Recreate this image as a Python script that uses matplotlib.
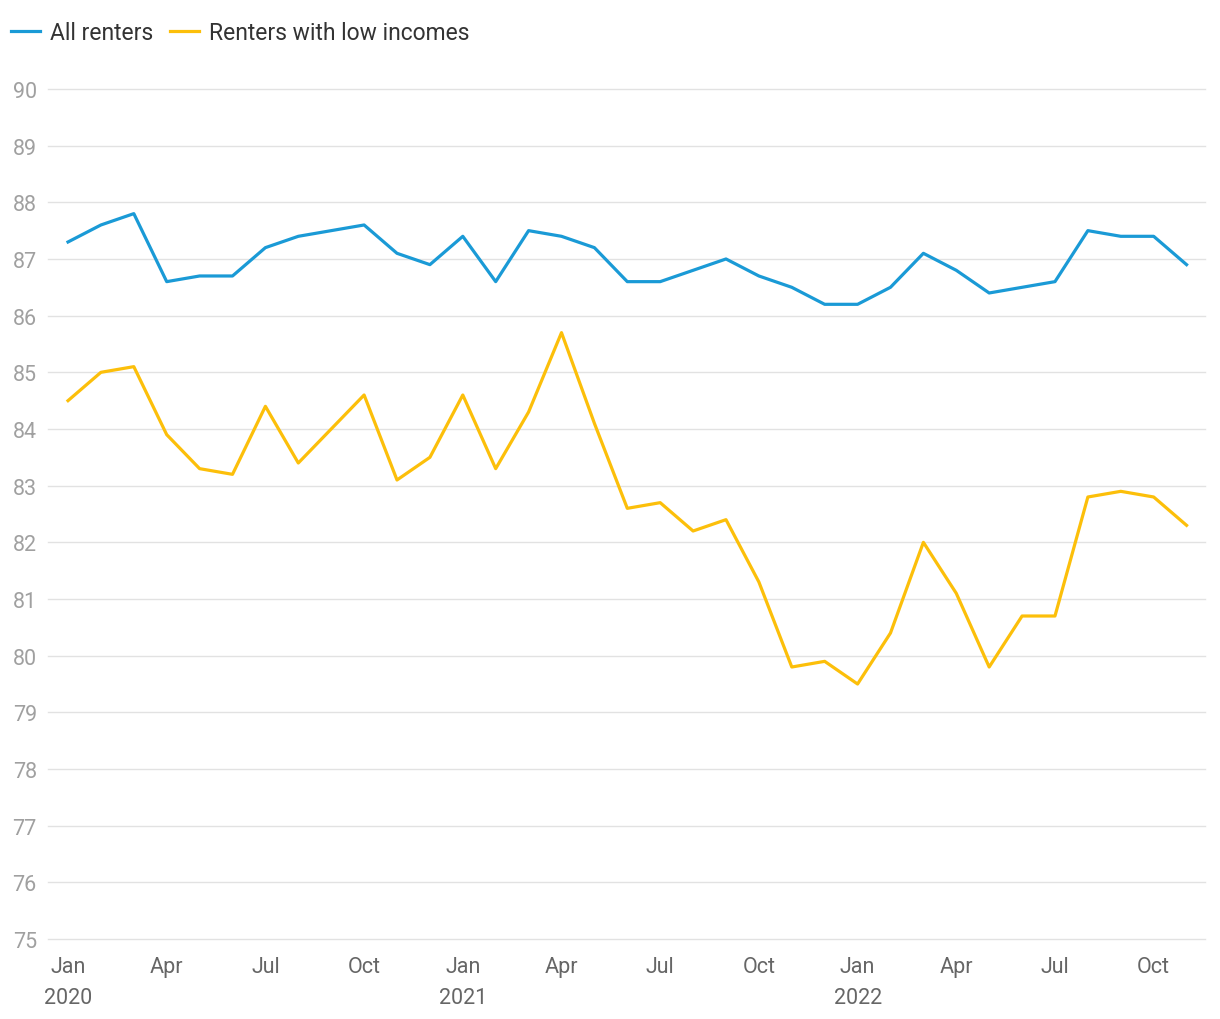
import numpy as np
import matplotlib.pyplot as plt

plt.rcParams['font.family'] = ['Roboto', 'DejaVu Sans']

months = np.arange(35)  # Jan 2020 .. Nov 2022
all_renters = [87.3, 87.6, 87.8, 86.6, 86.7, 86.7, 87.2, 87.4, 87.5, 87.6, 87.1, 86.9,
               87.4, 86.6, 87.5, 87.4, 87.2, 86.6, 86.6, 86.8, 87.0, 86.7, 86.5, 86.2,
               86.2, 86.5, 87.1, 86.8, 86.4, 86.5, 86.6, 87.5, 87.4, 87.4, 86.9]
low_income = [84.5, 85.0, 85.1, 83.9, 83.3, 83.2, 84.4, 83.4, 84.0, 84.6, 83.1, 83.5,
              84.6, 83.3, 84.3, 85.7, 84.1, 82.6, 82.7, 82.2, 82.4, 81.3, 79.8, 79.9,
              79.5, 80.4, 82.0, 81.1, 79.8, 80.7, 80.7, 82.8, 82.9, 82.8, 82.3]
tick_pos = [0, 3, 6, 9, 12, 15, 18, 21, 24, 27, 30, 33]
tick_labels = ['Jan\n2020', 'Apr', 'Jul', 'Oct', 'Jan\n2021', 'Apr', 'Jul', 'Oct',
               'Jan\n2022', 'Apr', 'Jul', 'Oct']

blue = '#1a9ad6'
yellow = '#fcbf0a'

fig = plt.figure(figsize=(12.2, 10.2), dpi=100)
ax = fig.add_axes([0.0393, 0.0784, 0.9484, 0.8334])

ax.plot(months, all_renters, color=blue, lw=2.3, label='All renters')
ax.plot(months, low_income, color=yellow, lw=2.3, label='Renters with low incomes')

ax.set_ylim(75, 90)
ax.set_xlim(-0.61, 34.56)
ax.set_yticks(range(75, 91))
ax.set_xticks(tick_pos)
ax.set_xticklabels(tick_labels, linespacing=1.62)
ax.grid(axis='y', color='#e2e2e2', lw=1)
for gl in ax.get_ygridlines():
    gl.set_clip_on(False)
ax.set_axisbelow(True)
for s in ax.spines.values():
    s.set_visible(False)
ax.tick_params(axis='both', length=0, labelsize=15.5)
ax.tick_params(axis='y', colors='#a0a0a0', pad=8)
ax.tick_params(axis='x', colors='#666666', pad=12)

fig.legend(loc='upper left', bbox_to_anchor=(-0.008, 0.999), ncol=2, frameon=False,
           fontsize=16.5, handlelength=1.25, handletextpad=0.45, columnspacing=0.75,
           labelcolor='#333333', borderaxespad=0.5)

fig.savefig('out.png', dpi=100)
